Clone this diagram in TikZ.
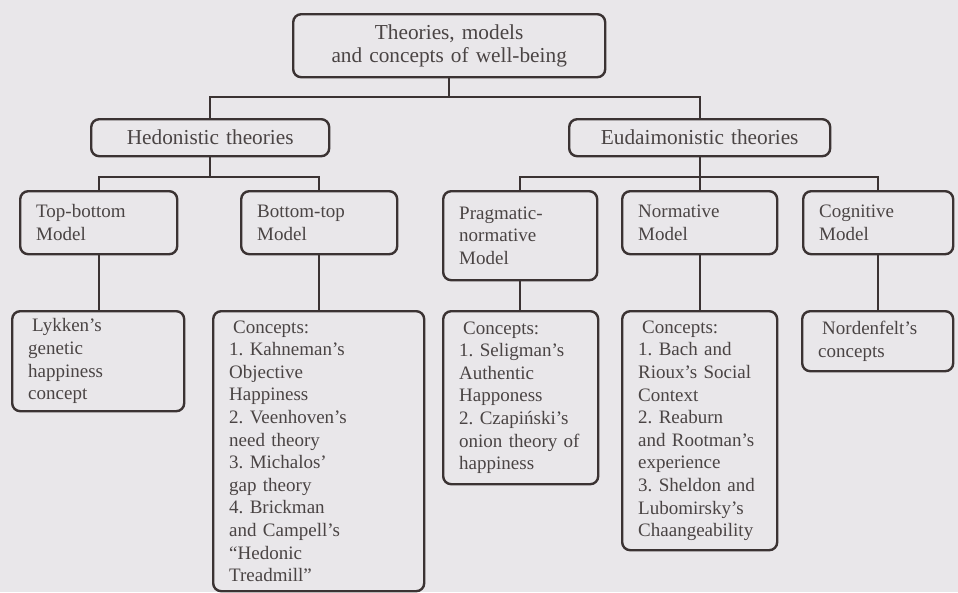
\documentclass[tikz,border=0pt]{standalone}
\usepackage{fontspec}
\setmainfont{Liberation Serif}
\frenchspacing
\definecolor{bgcol}{HTML}{E9E7EA}
\definecolor{linecol}{HTML}{3B3333}
\definecolor{textcol}{HTML}{4A4444}
\tikzset{
  boxbase/.style={draw=linecol, line width=2.4pt, rounded corners=8pt, inner xsep=16pt, inner ysep=0pt, text=textcol},
  bigbox/.style={boxbase, font=\fontsize{21.3}{23}\selectfont, align=center},
  smallbox/.style={boxbase, font=\fontsize{19}{22.6}\selectfont, align=left},
  conn/.style={draw=linecol, line width=2.3pt}
}
\newcommand\mybox[7]{%
  \pgfmathsetmacro\bxw{#4-#2}\pgfmathsetmacro\bxh{#5-#3}\pgfmathsetmacro\bxt{#4-#2-32}%
  \node[#6, anchor=north west, minimum width=\bxw pt, minimum height=\bxh pt, text width=\bxt pt] (#1) at (#2,#3) {#7};}
\begin{document}
\begin{tikzpicture}[x=1pt,y=-1pt]
\fill[bgcol] (0,0) rectangle (958,592);
\useasboundingbox (0,0) rectangle (958,592);
% level 1 and 2
\mybox{top}{292}{13}{604}{76}{bigbox}{Theories, models\\and concepts of well-being}
\mybox{hed}{90}{118}{328}{155}{bigbox}{Hedonistic theories}
\mybox{eud}{568}{118}{829}{155}{bigbox}{Eudaimonistic theories}
% level 3
\mybox{tb}{19}{190}{176}{253}{smallbox}{Top-bottom\\Model}
\mybox{bt}{240}{190}{396}{253}{smallbox}{Bottom-top\\Model}
\mybox{prag}{442}{190}{596}{279}{smallbox}{Pragmatic-\\normative\\Model}
\mybox{norm}{621}{190}{776}{253}{smallbox}{Normative\\Model}
\mybox{cog}{802}{190}{952}{253}{smallbox}{Cognitive\\Model}
% level 4
\mybox{lyk}{11}{310}{183}{410}{smallbox}{\hspace*{4pt}Lykken's\\genetic\\happiness\\concept}
\mybox{btc}{212}{310}{423}{590}{smallbox}{\hspace*{4pt}Concepts:\\1. Kahneman's\\Objective\\Happiness\\2. Veenhoven's\\need theory\\3. Michalos'\\gap theory\\4. Brickman\\and Campell's\\“Hedonic\\Treadmill”}
\mybox{pragc}{442}{310}{597}{483}{smallbox}{\hspace*{4pt}Concepts:\\1. Seligman's\\Authentic\\Happoness\\2. Czapiński's\\onion theory of\\happiness}
\mybox{normc}{621}{310}{776}{549}{smallbox}{\hspace*{4pt}Concepts:\\1. Bach and\\Rioux's Social\\Context\\2. Reaburn\\and Rootman's\\experience\\3. Sheldon and\\Lubomirsky's\\Chaangeability}
\mybox{nord}{801}{310}{952}{370}{smallbox}{\hspace*{4pt}Nordenfelt's\\concepts}
% bus coordinates
\coordinate (bus1) at (0,97);
\coordinate (bus2) at (0,177);
% connectors level 1-2
\draw[conn] (top.south) -- (top.south |- bus1);
\draw[conn] (hed.north) -- (hed.north |- bus1) -| (eud.north);
% hedonistic
\draw[conn] (hed.south) -- (hed.south |- bus2);
\draw[conn] (tb.north) -- (tb.north |- bus2) -| (bt.north);
% eudaimonistic
\draw[conn] (eud.south) -- (norm.north);
\draw[conn] (prag.north) -- (prag.north |- bus2) -| (cog.north);
% level 3-4
\draw[conn] (tb.south) -- (tb.south |- lyk.north);
\draw[conn] (bt.south) -- (bt.south |- btc.north);
\draw[conn] (prag.south) -- (prag.south |- pragc.north);
\draw[conn] (norm.south) -- (norm.south |- normc.north);
\draw[conn] (cog.south) -- (cog.south |- nord.north);
\end{tikzpicture}
\end{document}
